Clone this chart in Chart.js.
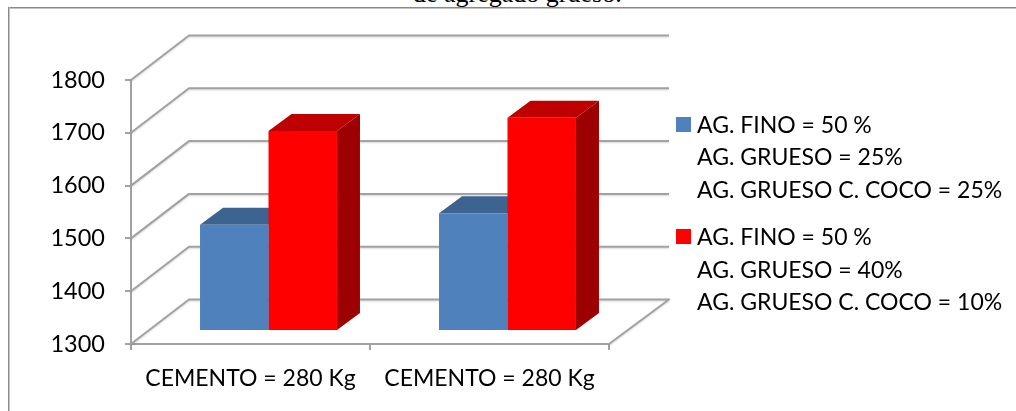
<!DOCTYPE html>
<html>
<head>
<meta charset="utf-8">
<style>
  html, body { margin: 0; padding: 0; background: #fff; overflow: hidden; }
  #wrap { position: relative; width: 1016px; height: 411px; overflow: hidden; }
  #caption { position: absolute; left: 413px; top: -21px; font: 26px/30px "Liberation Serif", serif; color: #000; white-space: nowrap; }
  #frameTop { position: absolute; left: 8px; top: 7px; right: 0; height: 1px; background: #8a8a8a; border-bottom: 1px solid #c4c4c4; }
  #frameLeft { position: absolute; left: 8px; top: 7px; bottom: 0; width: 1px; background: #8a8a8a; border-right: 1px solid #c4c4c4; }
  canvas { position: absolute; left: 0; top: 0; }
</style>
</head>
<body>
<div id="wrap">
  <div id="caption">de agregado grueso.</div>
  <div id="frameTop"></div>
  <div id="frameLeft"></div>
  <canvas id="chart" width="1016" height="411"></canvas>
</div>
<script src="https://cdn.jsdelivr.net/npm/chart.js@4/dist/chart.umd.min.js"></script>
<script>
const categories = ['CEMENTO = 280 Kg', 'CEMENTO = 280 Kg'];
const mixA = [1501, 1523];
const mixB = [1679, 1704];
const mixALabel = ['AG. FINO = 50 %', 'AG. GRUESO = 25%', 'AG. GRUESO C. COCO = 25%'];
const mixBLabel = ['AG. FINO = 50 %', 'AG. GRUESO = 40%', 'AG. GRUESO C. COCO = 10%'];
const yMin = 1300, yMax = 1800, yStep = 100;

const FONT = 'Lato, Carlito, sans-serif';
const GRID = '#a2a2a2';
// Oblique projection of the box: wall depth and the depth at which bars stand.
const WALL = { dx: 58, dy: -44.5, rightDx: 60 };
const BAR_OFFSET = { dx: 18, dy: -13 };
const BAR_DEPTH = { dx: 23, dy: -17 };
const SHADES = [
  { top: '#3d6390', side: '#33557c' },
  { top: '#bf0000', side: '#9c0000' }
];

const wall3d = {
  id: 'wall3d',
  beforeDatasetsDraw(chart) {
    const { ctx, chartArea: a, scales: { y } } = chart;
    ctx.save();
    ctx.strokeStyle = GRID;
    ctx.lineWidth = 2;
    ctx.lineJoin = 'round';
    ctx.shadowColor = 'rgba(0,0,0,0.16)';
    ctx.shadowBlur = 2;
    ctx.shadowOffsetY = 1;
    for (let v = yMin; v <= yMax; v += yStep) {
      const py = y.getPixelForValue(v);
      ctx.beginPath();
      ctx.moveTo(a.left, py);
      ctx.lineTo(a.left + WALL.dx, py + WALL.dy);
      ctx.lineTo(a.right + WALL.rightDx, py + WALL.dy);
      if (v === yMin) ctx.lineTo(a.right, py);
      ctx.stroke();
    }
    ctx.restore();
  }
};

const bars3d = {
  id: 'bars3d',
  beforeDatasetsDraw(chart) {
    const { ctx } = chart;
    ctx.save();
    ctx.translate(BAR_OFFSET.dx, BAR_OFFSET.dy);
    chart.data.datasets.forEach((ds, i) => {
      chart.getDatasetMeta(i).data.forEach(el => {
        const l = el.x - el.width / 2, r = el.x + el.width / 2, t = el.y, b = el.base;
        const dx = BAR_DEPTH.dx, dy = BAR_DEPTH.dy;
        ctx.fillStyle = SHADES[i].top;
        ctx.beginPath();
        ctx.moveTo(l, t); ctx.lineTo(l + dx, t + dy); ctx.lineTo(r + dx, t + dy); ctx.lineTo(r, t);
        ctx.closePath(); ctx.fill();
        ctx.fillStyle = SHADES[i].side;
        ctx.beginPath();
        ctx.moveTo(r, t); ctx.lineTo(r + dx, t + dy); ctx.lineTo(r + dx, b + dy); ctx.lineTo(r, b);
        ctx.closePath(); ctx.fill();
      });
    });
  },
  afterDatasetsDraw(chart) {
    chart.ctx.restore();
  }
};

const LEGEND_X = 676, SWATCH = 15, TEXT_X = 697;
const LEGEND_BASELINES = [[133, 165, 198], [245, 278, 310]];
const legendBlock = {
  id: 'legendBlock',
  afterDraw(chart) {
    const { ctx } = chart;
    ctx.save();
    ctx.font = '23px ' + FONT;
    ctx.textBaseline = 'alphabetic';
    chart.data.datasets.forEach((ds, i) => {
      const lines = LEGEND_BASELINES[i];
      ctx.fillStyle = ds.backgroundColor;
      ctx.fillRect(LEGEND_X, lines[0] - 16, SWATCH, SWATCH);
      ctx.fillStyle = '#000';
      ds.label.forEach((t, k) => ctx.fillText(t, TEXT_X, lines[k]));
    });
    ctx.restore();
  }
};

new Chart(document.getElementById('chart'), {
  type: 'bar',
  data: {
    labels: categories,
    datasets: [
      { label: mixALabel, data: mixA, base: yMin, backgroundColor: '#4f81bd', clip: false },
      { label: mixBLabel, data: mixB, base: yMin, backgroundColor: '#ff0000', clip: false }
    ]
  },
  plugins: [wall3d, bars3d, legendBlock],
  options: {
    responsive: false,
    animation: false,
    layout: { padding: { top: 80, right: 407, left: 0, bottom: 0 } },
    plugins: { legend: { display: false }, title: { display: false }, tooltip: { enabled: false } },
    datasets: { bar: { categoryPercentage: 0.573, barPercentage: 1 } },
    scales: {
      x: {
        afterFit(s) { s.height = 67; },
        grid: { drawOnChartArea: false, color: GRID, tickColor: GRID, tickLength: 6, lineWidth: 2 },
        border: { color: GRID, width: 2 },
        ticks: { color: '#000', font: { family: FONT, size: 23 }, padding: 15, maxRotation: 0, autoSkip: false }
      },
      y: {
        min: yMin,
        max: yMax,
        afterFit(s) { s.width = 131; },
        grid: { drawOnChartArea: false, color: GRID, tickColor: GRID, tickLength: 6, lineWidth: 2 },
        border: { color: GRID, width: 2 },
        ticks: { stepSize: yStep, color: '#000', font: { family: FONT, size: 23.5 }, padding: 20, callback: v => String(v) }
      }
    }
  }
});
</script>
</body>
</html>
